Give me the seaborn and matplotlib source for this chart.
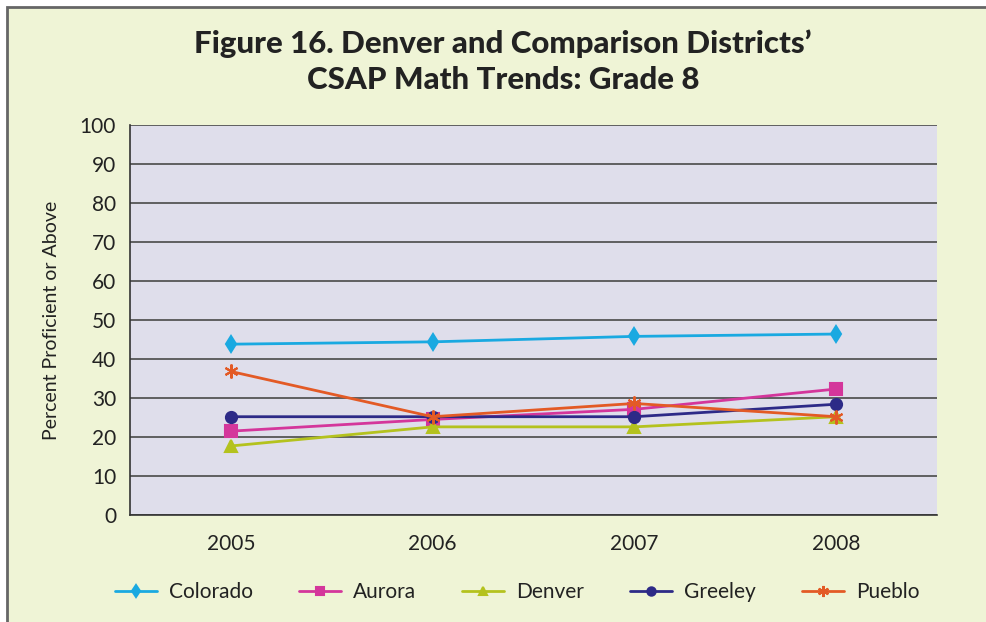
import numpy as np
import pandas as pd
import matplotlib.pyplot as plt
import seaborn as sns
from matplotlib.patches import Rectangle

years = ["2005", "2006", "2007", "2008"]
colorado = [43.8, 44.4, 45.8, 46.4]
aurora = [21.5, 24.5, 27.1, 32.3]
denver = [17.7, 22.6, 22.6, 25.2]
greeley = [25.2, 25.2, 25.2, 28.4]
pueblo = [36.8, 25.2, 28.6, 25.2]

districts = ["Colorado", "Aurora", "Denver", "Greeley", "Pueblo"]
colors = ["#1aa9e1", "#d4369b", "#b4c21e", "#2d2a87", "#e35a25"]
markers = ["d", "s", "^", "o", "X"]
asterisk = (6, 2, 0)

rows = []
for name, vals in zip(districts, [colorado, aurora, denver, greeley, pueblo]):
    for yr, v in zip(years, vals):
        rows.append({"Year": yr, "District": name, "Percent": v})
df = pd.DataFrame(rows)

sns.set_style("white")
plt.rcParams['font.family'] = ['Lato', 'DejaVu Sans']

fig = plt.figure(figsize=(9.86, 6.22), dpi=100)
fig.patch.set_facecolor("white")
# pale green panel with grey frame on left/top
fig.patches.append(Rectangle((7 / 986, -0.1), 1.2, 1 - 7 / 622 + 0.1,
                             transform=fig.transFigure, facecolor="#eff4d6",
                             edgecolor="#666666", linewidth=2.0, zorder=-1))

ax = fig.add_axes([130 / 986, 107 / 622, 807 / 986, 390 / 622])
ax.set_facecolor("#dfdeeb")

sns.lineplot(data=df, x="Year", y="Percent", hue="District", style="District",
             hue_order=districts, style_order=districts,
             palette=colors, markers=markers, dashes=False,
             markersize=8, linewidth=2, markeredgewidth=1.5, ax=ax)

for line, c in zip(ax.lines, colors):
    line.set_markeredgecolor(c)
ax.lines[4].set_marker(asterisk)
ax.lines[4].set_markersize(10)

handles = ax.get_legend().legend_handles
for h, c in zip(handles, colors):
    h.set_markeredgecolor(c)
    h.set_linewidth(2)
    h.set_markersize(6)
handles[4].set_marker(asterisk)
handles[4].set_markersize(8)

ax.set_xlim(-0.5, 3.5)
ax.set_ylim(0, 100)
ax.set_yticks(np.arange(0, 101, 10))
ax.set_xticks(range(4))
ax.set_xticks(np.arange(-0.5, 3.6, 1), minor=True)
ax.tick_params(axis="x", which="major", length=0, pad=14, labelsize=15, colors="#222222")
ax.tick_params(axis="x", which="minor", length=5, direction="out", color="#333333")
ax.tick_params(axis="y", length=6, direction="out", color="#333333", labelsize=15,
               pad=4, labelcolor="#222222")
ax.yaxis.grid(True, color="#555555", linewidth=1.3)
ax.set_axisbelow(True)
for s in ["top", "right"]:
    ax.spines[s].set_visible(False)
for s in ["left", "bottom"]:
    ax.spines[s].set_color("#333333")
    ax.spines[s].set_linewidth(1.2)

ax.set_xlabel("")
ax.set_ylabel("Percent Proficient or Above", fontsize=14, labelpad=14, color="#222222")

ax.legend(handles, districts, loc="upper center", bbox_to_anchor=(0.48, -0.125), ncol=5,
          frameon=False, fontsize=15, handlelength=2.0,
          columnspacing=2.2, handletextpad=0.6, labelcolor="#222222")

fig.text(0.51, 0.929, "Figure 16. Denver and Comparison Districts\u2019",
         ha="center", va="center", fontsize=22.5, fontweight="black", color="#222222")
fig.text(0.51, 0.872, "CSAP Math Trends: Grade 8",
         ha="center", va="center", fontsize=22.5, fontweight="black", color="#222222")

fig.savefig("out.png", dpi=100, facecolor=fig.get_facecolor())
